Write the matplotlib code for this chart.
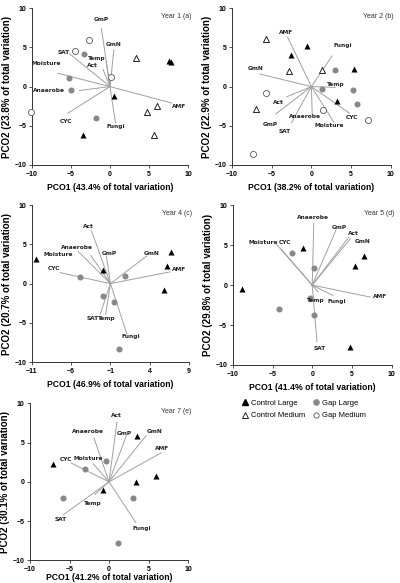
import matplotlib
matplotlib.use("Agg")
import matplotlib.pyplot as plt
from matplotlib.lines import Line2D

# ---- data: PCO scores per panel (x, y) ----
variables = ["GmP", "GmN", "Temp", "Act", "SAT", "Moisture", "Anaerobe", "CYC", "AMF", "Fungi"]

# Year 1 (a)
y1_control_large = [(7.5, 3.3), (7.8, 3.1), (0.5, -1.2), (-3.4, -6.2)]
y1_control_medium = [(3.3, 3.7), (4.8, -3.2), (6.0, -2.5), (5.6, -6.2)]
y1_gap_large = [(-3.3, 4.1), (-5.3, 1.1), (-5.0, -0.4), (-1.8, -4.0)]
y1_gap_medium = [(-2.7, 6.0), (-4.5, 4.6), (0.1, 1.2), (-10.1, -3.2)]
y1_vec = [(-1.1, 7.4), (0.5, 4.7), (-0.5, 3.2), (-0.9, 2.2), (-5.2, 4.2),
          (-6.7, 1.7), (-3.9, -0.5), (-5.4, -3.4), (7.9, -2.1), (0.7, -4.6)]

# Year 2 (b)
y2_control_large = [(-0.6, 5.2), (-2.6, 4.0), (5.4, 2.2), (3.2, -1.9)]
y2_control_medium = [(-5.7, 6.1), (-2.8, 2.0), (1.3, 2.1), (-7.0, -2.8)]
y2_gap_large = [(3.0, 2.1), (1.3, -0.3), (5.2, -0.5), (5.7, -2.2)]
y2_gap_medium = [(-5.7, -0.8), (1.5, -3.0), (7.1, -4.3), (-7.4, -8.6)]
y2_vec = [(-4.5, -3.5), (-6.5, 1.6), (3.0, -0.1), (-3.1, -1.3), (-2.5, -4.6),
          (2.8, -4.5), (0.1, -3.5), (4.8, -3.4), (-3.0, 6.3), (2.6, 3.9)]

# Year 4 (c)
y4_control_large = [(-10.5, 3.1), (-1.9, 1.8), (6.7, 4.0), (6.2, 2.3), (5.9, -0.8)]
y4_gap_large = [(-4.9, 0.8), (0.8, 1.0), (-2.0, -1.6), (-0.6, -2.3), (0.1, -8.4)]
y4_vec = [(-1.5, 3.5), (3.6, 3.5), (-1.6, -3.9), (-3.4, 6.7), (-2.3, -3.9),
          (-5.1, 4.1), (-3.5, 3.6), (-7.4, 1.4), (6.6, 1.5), (1.1, -6.4)]

# Year 5 (d)
y5_control_large = [(-8.9, -0.5), (-1.2, 4.6), (6.5, 3.6), (5.4, 2.4), (4.8, -7.7)]
y5_gap_large = [(-2.5, 4.0), (0.2, 2.1), (-0.3, -1.6), (0.2, -3.8), (-4.2, -3.0)]
y5_vec = [(3.0, 6.9), (4.8, 5.8), (0.7, -0.8), (4.6, 6.0), (0.6, -7.1),
          (-4.5, 5.1), (0.2, 7.7), (-3.9, 4.5), (7.3, -1.5), (2.6, -1.3)]

# Year 7 (e)
y7_control_large = [(-7.1, 2.3), (3.6, 5.8), (3.4, 0.0), (5.9, 0.7), (-0.8, -1.0)]
y7_gap_large = [(-0.4, 2.6), (-3.0, 1.7), (-5.8, -2.0), (3.1, -2.1), (1.1, -7.8)]
y7_vec = [(2.2, 5.9), (4.7, 5.9), (-1.8, -1.6), (1.0, 7.6), (-5.8, -4.2),
          (-2.0, 2.3), (-1.9, 5.6), (-4.8, 2.4), (6.6, 3.7), (3.4, -5.2)]

pco1_pct = ["43.4", "38.2", "46.9", "41.4", "41.2"]
pco2_pct = ["23.8", "22.9", "20.7", "29.8", "30.1"]
titles = ["Year 1 (a)", "Year 2 (b)", "Year 4 (c)", "Year 5 (d)", "Year 7 (e)"]

# ---- layout: label positions for vectors (data coords) ----
y1_lab = [(-1.1, 8.5), (0.5, 5.4), (-1.7, 3.6), (-2.2, 2.7), (-6.0, 4.35),
          (-8.2, 2.9), (-7.8, -0.5), (-5.7, -4.4), (8.8, -2.55), (0.7, -5.1)]
y2_lab = [(-5.2, -4.8), (-7.0, 2.3), (3.1, 0.3), (-4.2, -2.0), (-3.4, -5.7),
          (2.3, -5.0), (-0.8, -3.8), (5.1, -4.0), (-3.2, 6.9), (3.9, 5.2)]
y4_lab = [(-1.1, 3.8), (4.2, 3.9), (-1.5, -4.4), (-3.8, 7.3), (-3.3, -4.4),
          (-7.7, 3.7), (-5.3, 4.65), (-8.25, 1.9), (7.8, 1.8), (1.6, -6.7)]
y5_lab = [(3.4, 7.2), (6.3, 5.5), (0.5, -1.9), (5.25, 6.4), (0.9, -7.9),
          (-6.2, 5.3), (0.1, 8.4), (-3.4, 5.3), (8.5, -1.45), (3.1, -2.0)]
y7_lab = [(2.0, 6.2), (5.75, 6.4), (-2.0, -2.7), (0.9, 8.4), (-6.1, -4.75),
          (-2.6, 3.0), (-2.6, 6.4), (-5.45, 2.8), (6.7, 4.3), (4.2, -5.9)]

panels = [
    dict(pos=[0.080, 0.717, 0.390, 0.269], cl=y1_control_large, cm=y1_control_medium,
         gl=y1_gap_large, gm=y1_gap_medium, vec=y1_vec, lab=y1_lab,
         xlim=(-10, 10), xticks=[-10, -5, 0, 5, 10], origin=(0, 0)),
    dict(pos=[0.580, 0.717, 0.397, 0.269], cl=y2_control_large, cm=y2_control_medium,
         gl=y2_gap_large, gm=y2_gap_medium, vec=y2_vec, lab=y2_lab,
         xlim=(-10, 10), xticks=[-10, -5, 0, 5, 10], origin=(0, 0)),
    dict(pos=[0.080, 0.379, 0.392, 0.269], cl=y4_control_large, cm=[],
         gl=y4_gap_large, gm=[], vec=y4_vec, lab=y4_lab,
         xlim=(-11, 9), xticks=[-11, -6, -1, 4, 9], origin=(-1, 0)),
    dict(pos=[0.582, 0.374, 0.397, 0.274], cl=y5_control_large, cm=[],
         gl=y5_gap_large, gm=[], vec=y5_vec, lab=y5_lab,
         xlim=(-10, 10), xticks=[-10, -5, 0, 5, 10], origin=(0, 0)),
    dict(pos=[0.075, 0.039, 0.395, 0.269], cl=y7_control_large, cm=[],
         gl=y7_gap_large, gm=[], vec=y7_vec, lab=y7_lab,
         xlim=(-10, 10), xticks=[-10, -5, 0, 5, 10], origin=(0, 0)),
]

bold_font = ["Liberation Sans Narrow", "Liberation Sans", "DejaVu Sans"]
line_col = "#a0a0a0"
gray = "#888888"
ms = 19


def scatter(ax, pts, **kw):
    if pts:
        ax.scatter([p[0] for p in pts], [p[1] for p in pts], s=ms, zorder=3,
                   clip_on=False, **kw)


fig = plt.figure(figsize=(4.0, 5.83), dpi=100)

for i, p in enumerate(panels):
    ax = fig.add_axes(p["pos"])
    ox, oy = p["origin"]
    for (vx, vy), (lx, ly), name in zip(p["vec"], p["lab"], variables):
        ax.plot([ox, vx], [oy, vy], color=line_col, lw=0.7, zorder=2)
        ax.text(lx, ly, name, fontsize=4.2, fontweight="bold", color="#222222",
                ha="center", va="center", family="DejaVu Sans", zorder=4)
    scatter(ax, p["gl"], marker="o", color=gray, linewidths=0)
    scatter(ax, p["gm"], marker="o", facecolors="white", edgecolors="#555555", linewidths=0.6)
    scatter(ax, p["cm"], marker="^", facecolors="white", edgecolors="#222222", linewidths=0.7)
    scatter(ax, p["cl"], marker="^", color="black", linewidths=0)

    ax.set_xlim(p["xlim"])
    ax.set_ylim(-10, 10)
    ax.set_xticks(p["xticks"])
    ax.set_yticks([-10, -5, 0, 5, 10])
    for s in ["top", "right"]:
        ax.spines[s].set_visible(False)
    for s in ["left", "bottom"]:
        ax.spines[s].set_linewidth(0.7)
        ax.spines[s].set_color("#333333")
    ax.tick_params(length=2, width=0.6, pad=2, labelsize=5, color="#333333")
    for lab in ax.get_xticklabels() + ax.get_yticklabels():
        lab.set_fontweight("bold")
        lab.set_family(bold_font)
    ax.set_xlabel("PCO1 (%s%% of total variation)" % pco1_pct[i], fontsize=6.2,
                  fontweight="bold", family=bold_font, labelpad=4)
    if i == 4:
        # last panel sits at the bottom edge: pin its label just inside the figure
        ax.xaxis.label.set_va("bottom")
        ax.xaxis.set_label_coords(0.5, -0.138)
    ax.set_ylabel("PCO2 (%s%% of total variation)" % pco2_pct[i], fontsize=7,
                  fontweight="bold", family=bold_font, labelpad=2)
    ax.text(1.02, 0.95, titles[i], transform=ax.transAxes, ha="right", va="center",
            fontsize=5, color="#333333", family=["Liberation Sans", "DejaVu Sans"])

handles = [
    Line2D([], [], ls="", marker="^", color="black", ms=4.2),
    Line2D([], [], ls="", marker="^", mfc="white", mec="#222222", mew=0.7, ms=4.2),
    Line2D([], [], ls="", marker="o", color=gray, ms=3.8),
    Line2D([], [], ls="", marker="o", mfc="white", mec="#555555", mew=0.6, ms=3.8),
]
labels = ["Control Large", "Control Medium", "Gap Large", "Gap Medium"]
fig.legend(handles, labels, ncol=2, loc="upper left", bbox_to_anchor=(0.585, 0.327),
           frameon=False, prop={"family": ["Liberation Sans", "DejaVu Sans"], "size": 5.5},
           handletextpad=0.3, columnspacing=1.0, handlelength=1.0, labelspacing=0.7)

fig.savefig("out.png", dpi=100)
